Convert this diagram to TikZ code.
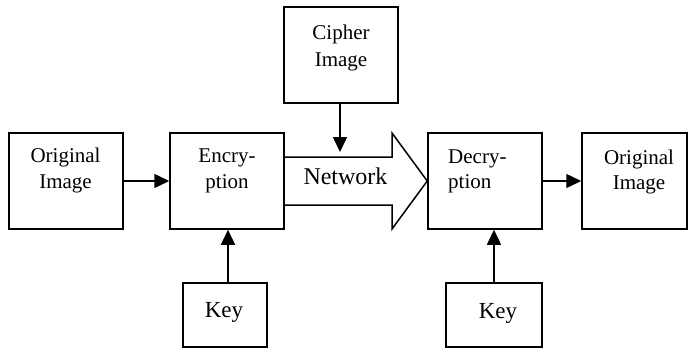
\documentclass[tikz,border=0pt]{standalone}
\usepackage{fontspec}
\setmainfont{Liberation Serif}
\usetikzlibrary{arrows.meta}
\begin{document}
\begin{tikzpicture}[x=1pt,y=-1pt,
  box/.style={draw,line width=1.5pt,inner sep=0pt,minimum height=96pt,minimum width=114pt},
  keybox/.style={draw,line width=1.5pt,inner sep=0pt,minimum height=64pt},
  txt/.style={anchor=base,inner sep=0pt,font=\fontsize{21}{25}\selectfont},
  flow/.style={line width=1.5pt,-{Triangle[length=15pt,width=14pt]}}]
\useasboundingbox (0,0) rectangle (689,348);
% boxes
\node[box] (orig1) at (66,181) {};
\node[box] (enc) at (227,181) {};
\node[box] (cipher) at (341,55) {};
\node[box] (dec) at (485,181) {};
\node[box,minimum width=105pt] (orig2) at (634.5,181) {};
\node[keybox,minimum width=84pt] (key1) at (225,315) {};
\node[keybox,minimum width=96pt] (key2) at (494,315) {};
% texts
\node[txt] (o1a) at (65.5,162.5) {Original};
\node[txt] (o1b) at (65.5,188) {Image};
\node[txt] (e1a) at (227,162.5) {Encry-};
\node[txt] (e1b) at (227,188) {ption};
\node[txt] (c1a) at (341,39) {Cipher};
\node[txt] (c1b) at (341,66) {Image};
\node[txt,anchor=base west] (d1a) at (448,163.5) {Decry-};
\node[txt,anchor=base west] (d1b) at (448,188.5) {ption};
\node[txt] (o2a) at (639,164) {Original};
\node[txt] (o2b) at (639,189) {Image};
\node[txt,font=\fontsize{23}{27}\selectfont] (k1) at (224,317) {Key};
\node[txt,font=\fontsize{23}{27}\selectfont] (k2) at (498,318) {Key};
% network arrow
\coordinate (nA) at (enc.east |- 0,157);
\coordinate (nB) at (392,157);
\coordinate (nC) at (392,133);
\coordinate (nT) at (dec.west);
\coordinate (nD) at (392,229);
\coordinate (nE) at (392,205);
\coordinate (nF) at (enc.east |- 0,205);
\draw[line width=1.5pt,line join=miter] (nA) -- (nB) -- (nC) -- (nT) -- (nD) -- (nE) -- (nF);
\node[txt,font=\fontsize{24}{28}\selectfont] (net) at (345.5,184) {Network};
% connectors
\coordinate (cEnd) at (340,152);
\draw[flow] (cipher.south -| cEnd) -- (cEnd);
\draw[flow] (orig1.east) -- (enc.west);
\draw[flow] (dec.east) -- (orig2.west);
\draw[flow] (key1.north -| 228,0) -- (enc.south -| 228,0);
\draw[flow] (key2.north) -- (dec.south -| key2.north);
\end{tikzpicture}
\end{document}
